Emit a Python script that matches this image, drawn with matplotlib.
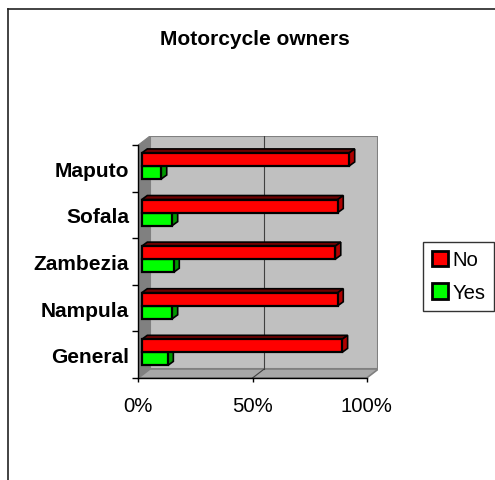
import matplotlib.pyplot as plt
from matplotlib.patches import Polygon, Patch
from matplotlib.lines import Line2D

plt.rcParams['font.family'] = ['Liberation Sans', 'DejaVu Sans']

# data (share of households, %)
regions = ['General', 'Nampula', 'Zambezia', 'Sofala', 'Maputo']
no_pct = [87.7, 85.8, 84.7, 85.8, 90.8]
yes_pct = [11.4, 13.3, 14.0, 13.3, 8.5]

W, H = 495, 481
fig = plt.figure(figsize=(W / 100, H / 100), dpi=100)

# front plane of the plot: 0% at x=138.3px, 100% at 366.7px, y from 379px up to 146px
x_left, x_100, y_bot, y_top = 138.3, 366.7, 379.0, 146.0
PX_X = (x_100 - x_left) / 100.0
PX_Y = (y_bot - y_top) / len(regions)
DEPTH = (11.7, 9.0)  # wall depth in px

ax_w = (x_100 - x_left) + DEPTH[0]
ax_h = (y_bot - y_top) + DEPTH[1]
ax = fig.add_axes([x_left / W, (H - y_bot) / H, ax_w / W, ax_h / H])
ax.set_xlim(0, ax_w / PX_X)
ax.set_ylim(-0.5, -0.5 + ax_h / PX_Y)
ax.patch.set_visible(False)


def off(dx, dy):
    return dx / PX_X, dy / PX_Y


dx, dy = off(*DEPTH)
n = len(regions)
lo, hi = -0.5, n - 0.5

# walls and floor
ax.add_patch(Polygon([(dx, lo + dy), (100 + dx, lo + dy), (100 + dx, hi + dy), (dx, hi + dy)],
                     closed=True, facecolor='#c0c0c0', edgecolor='#808080', lw=1.5, zorder=0))
ax.add_patch(Polygon([(0, lo), (0, hi), (dx, hi + dy), (dx, lo + dy)],
                     closed=True, facecolor='#808080', edgecolor='#808080', lw=0.8, zorder=1))
ax.add_patch(Polygon([(0, lo), (100, lo), (100 + dx, lo + dy), (dx, lo + dy)],
                     closed=True, facecolor='#a8a8a8', edgecolor='#808080', lw=1.2, zorder=1))
# gridline at 50%
ax.plot([50 + dx, 50 + dx], [lo + dy, hi + dy], color='#404040', lw=0.8, zorder=1.5)
ax.plot([50, 50 + dx], [lo, lo + dy], color='#404040', lw=0.8, zorder=1.5)

# bars
x0 = off(3.5, 0)[0]
bh = 0.28
bdx, bdy = off(5.5, 4.0)
series = [
    (yes_pct, -0.23, '#00ff00', '#007f00', '#009900', 3),
    (no_pct, 0.05, '#ff0000', '#6f0000', '#b00000', 5),
]
for vals, yoff, face, top_c, side_c, z in series:
    for i, v in enumerate(vals):
        y0 = i + yoff
        y1 = y0 + bh
        ax.add_patch(Polygon([(x0, y1), (x0 + v, y1), (x0 + v + bdx, y1 + bdy), (x0 + bdx, y1 + bdy)],
                             closed=True, facecolor=top_c, edgecolor='black', lw=1.2, zorder=z))
        ax.add_patch(Polygon([(x0 + v, y0), (x0 + v + bdx, y0 + bdy), (x0 + v + bdx, y1 + bdy), (x0 + v, y1)],
                             closed=True, facecolor=side_c, edgecolor='black', lw=1.2, zorder=z))
    ax.barh([i + yoff + bh / 2 for i in range(n)], vals, left=x0, height=bh,
            color=face, edgecolor='black', lw=1.6, zorder=z + 1)

# axes
for s in ['top', 'right']:
    ax.spines[s].set_visible(False)
ax.spines['left'].set_bounds(lo, hi)
ax.spines['bottom'].set_bounds(0, 100)
for s in ['left', 'bottom']:
    ax.spines[s].set_linewidth(1.0)
    ax.spines[s].set_zorder(8)

ax.set_yticks([lo + k for k in range(n + 1)])
ax.set_yticklabels([])
ax.set_yticks(range(n), minor=True)
ax.set_yticklabels(regions, minor=True, fontsize=15, fontweight='bold')
ax.tick_params(axis='y', which='major', length=4.2, width=1.0, direction='out')
ax.tick_params(axis='y', which='minor', length=0, pad=6.5)

ax.set_xticks([0, 50, 100])
ax.set_xticklabels(['0%', '50%', '100%'], fontsize=14.6)
ax.tick_params(axis='x', length=3.2, width=1.0, direction='out', pad=9.5)

# title
fig.text(254.5 / W, 1 - 45 / H, 'Motorcycle owners', ha='center', va='baseline',
         fontsize=15, fontweight='bold')

# legend
handles = [Patch(facecolor='#ff0000', edgecolor='black', lw=2),
           Patch(facecolor='#00ff00', edgecolor='black', lw=2)]
leg = fig.legend(handles, ['No', 'Yes'], loc='upper left',
                 bbox_to_anchor=(423.3 / W, 1 - 242.7 / H), bbox_transform=fig.transFigure,
                 fontsize=14.6, frameon=True, fancybox=False, borderaxespad=0,
                 handlelength=0.78, handleheight=0.78, handletextpad=0.25,
                 labelspacing=0.68, borderpad=0.42)
leg.get_frame().set_edgecolor('black')
leg.get_frame().set_linewidth(1.0)

# outer chart border (left and top)
fig.add_artist(Line2D([7.8 / W, 7.8 / W], [0, 1 - 10 / H], color='#222222', lw=1.2))
fig.add_artist(Line2D([7.8 / W, 1], [1 - 10 / H, 1 - 10 / H], color='#222222', lw=1.2))

fig.savefig('out.png', dpi=100)
